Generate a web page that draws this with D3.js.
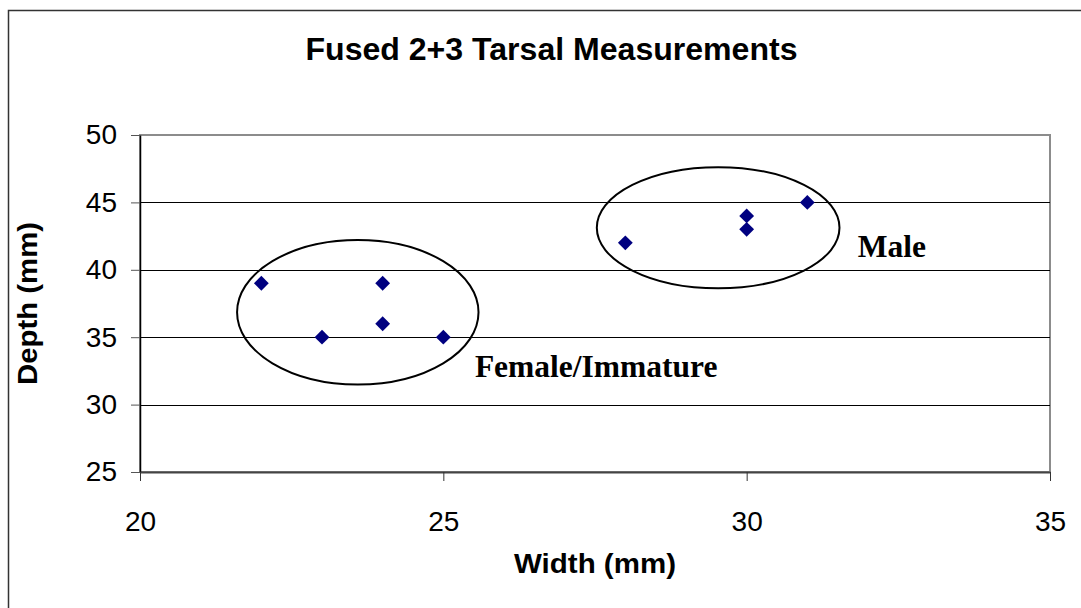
<!DOCTYPE html>
<meta charset="utf-8">
<script src="https://d3js.org/d3.v7.min.js"></script>
<style>
  body { margin: 0; background: #fff; }
  text { font-family: "Liberation Sans", Arial, sans-serif; }
  .note { font-family: "Liberation Serif", "Times New Roman", serif; font-weight: bold; }
</style>
<div id="chart"></div>
<script>
var widths = [22, 23, 24, 24, 25, 28, 30, 30, 31];
var depths = [39, 35, 39, 36, 35, 42, 44, 43, 45];
var xTicks = [20, 25, 30, 35];
var yTicks = [25, 30, 35, 40, 45, 50];

// group outlines, in data units: centre x, centre y, radius x, radius y
var groupNames = ["Female/Immature", "Male"];
var groupCx = [23.59, 29.53];
var groupCy = [36.85, 43.12];
var groupRx = [1.99, 2.0];
var groupRy = [5.36, 4.49];
var labelX = [25.52, 31.83];
var labelY = [32.07, 40.97];

var W = 1081, H = 608;
var margin = {top: 135, right: 31, bottom: 136, left: 140},
    width = W - margin.left - margin.right,
    height = H - margin.top - margin.bottom;

var svg = d3.select("#chart").append("svg")
  .attr("width", W)
  .attr("height", H);

// outer frame
svg.append("rect")
  .attr("x", 8.5).attr("y", 10.5)
  .attr("width", W + 20).attr("height", H + 20)
  .attr("fill", "none")
  .attr("stroke", "#333")
  .attr("stroke-width", 1.5);

svg.append("text")
  .attr("x", 551.5)
  .attr("y", 60)
  .attr("text-anchor", "middle")
  .style("font-size", "31px")
  .style("font-weight", "bold")
  .attr("textLength", 492)
  .attr("lengthAdjust", "spacingAndGlyphs")
  .text("Fused 2+3 Tarsal Measurements");

var g = svg.append("g")
  .attr("transform", "translate(" + margin.left + "," + margin.top + ")");

var x = d3.scaleLinear().domain([20, 35]).range([0, width]);
var y = d3.scaleLinear().domain([25, 50]).range([height, 0]);

// plot border
g.append("rect")
  .attr("width", width).attr("height", height)
  .attr("fill", "none")
  .attr("stroke", "#8c8c8c")
  .attr("stroke-width", 2);

// gridlines
g.append("g")
  .selectAll("line")
  .data(yTicks.filter(function(d) { return d > 25 && d < 50; }))
  .enter().append("line")
  .attr("x1", 0).attr("x2", width)
  .attr("y1", function(d) { return Math.round(y(d)) + 0.5; })
  .attr("y2", function(d) { return Math.round(y(d)) + 0.5; })
  .attr("stroke", "#000")
  .attr("stroke-width", 1);

// Y axis
var yAxis = g.append("g")
  .call(d3.axisLeft(y).tickValues(yTicks).tickSize(9).tickSizeOuter(0).tickPadding(14));
yAxis.select(".domain").attr("stroke", "#000").attr("stroke-width", 1.5);
yAxis.selectAll(".tick line").attr("stroke", "#555");
yAxis.selectAll("text")
  .style("font-size", "28px")
  .style("font-family", "Liberation Sans, Arial, sans-serif")
  .attr("fill", "#000");

// X axis
var xAxis = g.append("g")
  .attr("transform", "translate(0," + height + ")")
  .call(d3.axisBottom(x).tickValues(xTicks).tickSize(9).tickSizeOuter(0).tickPadding(30));
xAxis.select(".domain").attr("stroke", "#444").attr("stroke-width", 2);
xAxis.selectAll(".tick line").attr("stroke", "#333");
xAxis.selectAll("text")
  .style("font-size", "28px")
  .style("font-family", "Liberation Sans, Arial, sans-serif")
  .attr("fill", "#000");

// axis titles
svg.append("text")
  .attr("x", 595)
  .attr("y", 573)
  .attr("text-anchor", "middle")
  .style("font-size", "28px")
  .style("font-weight", "bold")
  .attr("textLength", 162)
  .attr("lengthAdjust", "spacingAndGlyphs")
  .text("Width (mm)");

svg.append("text")
  .attr("transform", "translate(37,303.5) rotate(-90)")
  .attr("text-anchor", "middle")
  .style("font-size", "28px")
  .style("font-weight", "bold")
  .attr("textLength", 163)
  .attr("lengthAdjust", "spacingAndGlyphs")
  .text("Depth (mm)");

// group ellipses
g.append("g")
  .selectAll("ellipse")
  .data(groupNames)
  .enter().append("ellipse")
  .attr("cx", function(d, i) { return x(groupCx[i]); })
  .attr("cy", function(d, i) { return y(groupCy[i]); })
  .attr("rx", function(d, i) { return x(groupCx[i] + groupRx[i]) - x(groupCx[i]); })
  .attr("ry", function(d, i) { return y(groupCy[i] - groupRy[i]) - y(groupCy[i]); })
  .attr("fill", "none")
  .attr("stroke", "#000")
  .attr("stroke-width", 2);

// points
var diamond = d3.symbol().type(d3.symbolSquare).size(110);
g.append("g")
  .selectAll("path")
  .data(widths)
  .enter().append("path")
  .attr("d", diamond)
  .attr("transform", function(d, i) {
    return "translate(" + x(d) + "," + y(depths[i]) + ") rotate(45)";
  })
  .attr("fill", "#000080");

// group labels
g.append("g")
  .selectAll("text")
  .data(groupNames)
  .enter().append("text")
  .attr("class", "note")
  .attr("x", function(d, i) { return x(labelX[i]); })
  .attr("y", function(d, i) { return y(labelY[i]); })
  .style("font-size", "31.5px")
  .text(function(d) { return d; });
</script>
